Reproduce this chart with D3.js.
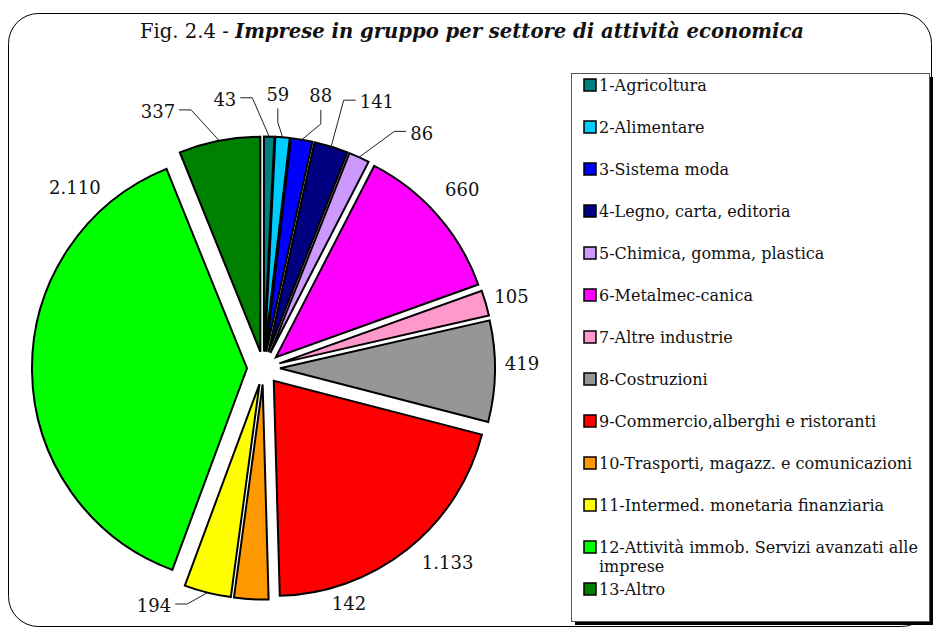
<!DOCTYPE html>
<html>
<head>
<meta charset="utf-8">
<script src="https://d3js.org/d3.v7.min.js"></script>
<style>
  body { margin: 0; background: #fff; }
  text { font-family: "DejaVu Serif", Georgia, serif; fill: #111; }
  .slice { stroke: #000; stroke-width: 2; }
  .leader { fill: none; stroke: #222; stroke-width: 1; }
</style>
</head>
<body>
<script>
var sectors = ["1-Agricoltura", "2-Alimentare", "3-Sistema moda", "4-Legno, carta, editoria",
  "5-Chimica, gomma, plastica", "6-Metalmec-canica", "7-Altre industrie", "8-Costruzioni",
  "9-Commercio,alberghi e ristoranti", "10-Trasporti, magazz. e comunicazioni",
  "11-Intermed. monetaria finanziaria", "12-Attività immob. Servizi avanzati alle imprese", "13-Altro"];
var imprese = [43, 59, 88, 141, 86, 660, 105, 419, 1133, 142, 194, 2110, 337];
var colori = ["#008080", "#00CCFF", "#0000FF", "#000080", "#CC99FF", "#FF00FF", "#FF99CC",
  "#969696", "#FF0000", "#FF9900", "#FFFF00", "#00FF00", "#008000"];

// where Excel put each value label: angle from top (deg), distance from pie centre
var labelPos = [[351.8, 271], [3.0, 274], [11.9, 278], [23.1, 289], [34, 283], [48.1, 267],
  [74, 258], [89, 258.5], [136.6, 268], [160.1, 251], [204.7, 262], [313.7, 261], [337.6, 277]];
var leaderType = ["h", "v", "v", "h", "h", null, null, null, null, null, "h", null, "h"];

var width = 936, height = 629;
var cx = 263.5, cy = 368, radius = 215, explode = 16.5;

var svg = d3.select("body").append("svg")
  .attr("width", width).attr("height", height);

// outer frame
svg.append("rect")
  .attr("x", 8.5).attr("y", 13.5).attr("width", 923).attr("height", 613)
  .attr("rx", 30).attr("ry", 30)
  .attr("fill", "#fff").attr("stroke", "#000").attr("stroke-width", 1);

// title
var title = svg.append("text")
  .attr("x", 472).attr("y", 38)
  .attr("text-anchor", "middle")
  .attr("font-size", 20)
  .attr("textLength", 664).attr("lengthAdjust", "spacingAndGlyphs");
title.append("tspan").text("Fig. 2.4 - ");
title.append("tspan").attr("font-weight", "bold").attr("font-style", "italic")
  .text("Imprese in gruppo per settore di attività economica");

var it = d3.formatLocale({decimal: ",", thousands: ".", grouping: [3], currency: ["€", ""]});
var fmt = it.format(",d");

var pie = d3.pie().sort(null).value(function(d) { return d; });
var arcs = pie(imprese);
var arc = d3.arc().innerRadius(0).outerRadius(radius);

function mid(d) { return (d.startAngle + d.endAngle) / 2; }

var g = svg.append("g").attr("transform", "translate(" + cx + "," + cy + ")");

g.selectAll("path.slice")
  .data(arcs)
  .enter()
  .append("path")
  .attr("class", "slice")
  .attr("fill", function(d, i) { return colori[i]; })
  .attr("transform", function(d) {
    var a = mid(d);
    return "translate(" + (explode * Math.sin(a)) + "," + (-explode * Math.cos(a)) + ")";
  })
  .attr("d", arc);

// value labels
var labels = g.selectAll("text.val")
  .data(arcs)
  .enter()
  .append("text")
  .attr("class", "val")
  .attr("font-size", 18)
  .attr("text-anchor", "middle")
  .attr("dy", "0.35em")
  .attr("x", function(d, i) { return labelPos[i][1] * Math.sin(labelPos[i][0] * Math.PI / 180); })
  .attr("y", function(d, i) { return -labelPos[i][1] * Math.cos(labelPos[i][0] * Math.PI / 180); })
  .text(function(d) { return fmt(d.value); });

// leader lines
labels.each(function(d, i) {
  var type = leaderType[i];
  if (!type) return;
  var a = mid(d), rr = radius + explode;
  var px = rr * Math.sin(a), py = -rr * Math.cos(a);
  var lx = +this.getAttribute("x"), ly = +this.getAttribute("y");
  var w = this.getComputedTextLength();
  var pts;
  if (type === "h") {
    var sx = px > lx ? lx + w / 2 + 4 : lx - w / 2 - 4;
    var kx = px > lx ? sx + 12 : sx - 12;
    pts = [[sx, ly - 2], [kx, ly - 2], [px, py]];
  } else {
    var sy = ly + 14;
    pts = [[lx, sy], [lx, sy + 14], [px, py]];
  }
  g.append("path").attr("class", "leader").attr("d", d3.line()(pts));
});

// legend
var lx0 = 571, ly0 = 73, lw = 358, lh = 548;
svg.append("rect")
  .attr("x", lx0 + 4).attr("y", ly0 + 4).attr("width", lw).attr("height", lh)
  .attr("fill", "#000");
svg.append("rect")
  .attr("x", lx0 + 0.5).attr("y", ly0 + 0.5).attr("width", lw).attr("height", lh)
  .attr("fill", "#fff").attr("stroke", "#555").attr("stroke-width", 1);

var ly = d3.scaleLinear().domain([0, 12]).range([85, 589]);

var items = svg.selectAll("g.leg")
  .data(sectors)
  .enter()
  .append("g")
  .attr("class", "leg")
  .attr("transform", function(d, i) { return "translate(" + (lx0 + 13) + "," + ly(i) + ")"; });

items.append("rect")
  .attr("x", 0).attr("y", -6).attr("width", 12).attr("height", 12)
  .attr("fill", function(d, i) { return colori[i]; })
  .attr("stroke", "#000").attr("stroke-width", 1.5);

items.append("text")
  .attr("x", 15).attr("dy", "0.35em")
  .attr("font-size", 16)
  .each(function(d, i) {
    var t = d3.select(this);
    if (i === 11) {
      t.append("tspan").attr("x", 15).text("12-Attività immob. Servizi avanzati alle");
      t.append("tspan").attr("x", 15).attr("dy", 19).text("imprese");
    } else {
      t.text(d);
    }
  });
</script>
</body>
</html>
